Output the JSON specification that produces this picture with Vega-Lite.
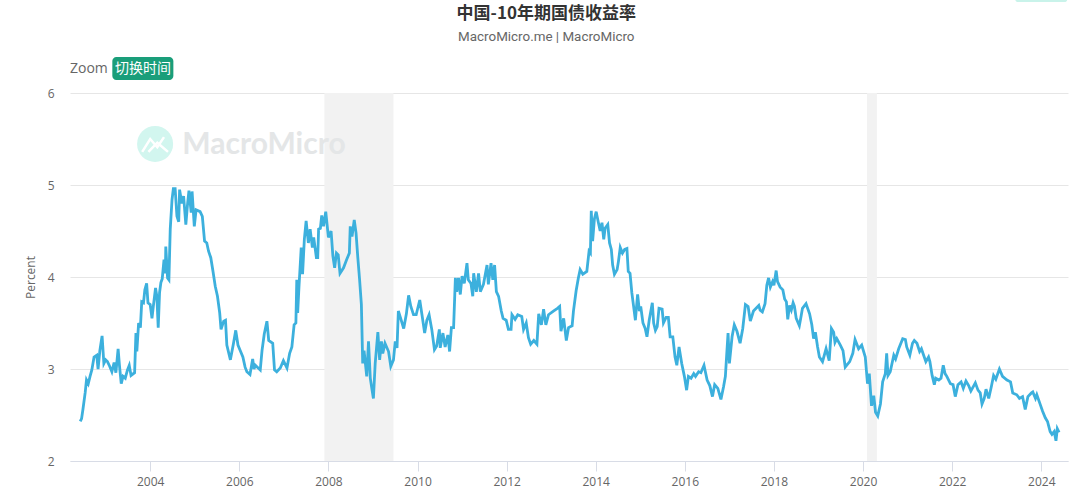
{"$schema":"https://vega.github.io/schema/vega-lite/v6.json","width":998,"height":368,"autosize":{"type":"none"},"padding":{"left":70,"top":93,"right":12,"bottom":43},"background":"#ffffff",
"config":{"view":{"stroke":null}},
"datasets":{
"recessions":[{"start":2007.91,"end":2009.46},{"start":2020.09,"end":2020.31}],
"boxes":[{"x1":2003.15,"x2":2004.52,"y1":6.14,"y2":6.39,"part":"button"},{"x1":2023.42,"x2":2024.58,"y1":6.99,"y2":7.03,"part":"corner"}],
"logo":[{"year":2003.82,"pct":5.36,"stroke":"a"},{"year":2004.0,"pct":5.5,"stroke":"a"},{"year":2004.16,"pct":5.41,"stroke":"a"},{"year":2004.31,"pct":5.52,"stroke":"a"},{"year":2003.96,"pct":5.36,"stroke":"b"},{"year":2004.16,"pct":5.46,"stroke":"b"},{"year":2004.4,"pct":5.36,"stroke":"b"}],
"yields":[
{"year":2002.43,"pct":2.43},{"year":2002.46,"pct":2.46},{"year":2002.49,"pct":2.56},{"year":2002.54,"pct":2.74},{"year":2002.57,"pct":2.88},{"year":2002.61,"pct":2.84},{"year":2002.65,"pct":2.92},{"year":2002.69,"pct":2.99},{"year":2002.74,"pct":3.13},{"year":2002.8,"pct":3.15},{"year":2002.83,"pct":3.0},{"year":2002.87,"pct":3.2},{"year":2002.92,"pct":3.36},{"year":2002.96,"pct":3.06},{"year":2003.0,"pct":3.1},{"year":2003.04,"pct":3.08},{"year":2003.09,"pct":3.03},{"year":2003.14,"pct":2.97},{"year":2003.19,"pct":3.07},{"year":2003.23,"pct":2.96},{"year":2003.28,"pct":3.22},{"year":2003.31,"pct":3.04},{"year":2003.35,"pct":2.84},{"year":2003.39,"pct":2.92},{"year":2003.44,"pct":2.9},{"year":2003.49,"pct":2.99},{"year":2003.53,"pct":3.04},{"year":2003.57,"pct":2.93},{"year":2003.65,"pct":2.96},{"year":2003.68,"pct":3.39},{"year":2003.7,"pct":3.19},{"year":2003.74,"pct":3.5},{"year":2003.78,"pct":3.45},{"year":2003.81,"pct":3.73},{"year":2003.85,"pct":3.72},{"year":2003.88,"pct":3.86},{"year":2003.92,"pct":3.93},{"year":2003.95,"pct":3.72},{"year":2004.0,"pct":3.7},{"year":2004.04,"pct":3.55},{"year":2004.07,"pct":3.68},{"year":2004.12,"pct":3.88},{"year":2004.15,"pct":3.79},{"year":2004.18,"pct":3.45},{"year":2004.21,"pct":3.83},{"year":2004.24,"pct":3.94},{"year":2004.27,"pct":3.98},{"year":2004.31,"pct":4.19},{"year":2004.34,"pct":4.04},{"year":2004.35,"pct":4.33},{"year":2004.39,"pct":3.99},{"year":2004.42,"pct":3.97},{"year":2004.45,"pct":4.52},{"year":2004.49,"pct":4.84},{"year":2004.52,"pct":4.96},{"year":2004.56,"pct":4.96},{"year":2004.6,"pct":4.66},{"year":2004.64,"pct":4.6},{"year":2004.66,"pct":4.95},{"year":2004.71,"pct":4.8},{"year":2004.75,"pct":4.88},{"year":2004.8,"pct":4.57},{"year":2004.84,"pct":4.8},{"year":2004.87,"pct":4.94},{"year":2004.92,"pct":4.7},{"year":2004.94,"pct":4.93},{"year":2004.99,"pct":4.55},{"year":2005.03,"pct":4.73},{"year":2005.12,"pct":4.71},{"year":2005.17,"pct":4.66},{"year":2005.22,"pct":4.39},{"year":2005.27,"pct":4.37},{"year":2005.31,"pct":4.28},{"year":2005.36,"pct":4.21},{"year":2005.41,"pct":4.06},{"year":2005.46,"pct":3.9},{"year":2005.51,"pct":3.79},{"year":2005.56,"pct":3.61},{"year":2005.59,"pct":3.43},{"year":2005.65,"pct":3.52},{"year":2005.69,"pct":3.53},{"year":2005.72,"pct":3.26},{"year":2005.8,"pct":3.1},{"year":2005.87,"pct":3.28},{"year":2005.92,"pct":3.42},{"year":2005.97,"pct":3.26},{"year":2006.02,"pct":3.2},{"year":2006.08,"pct":3.13},{"year":2006.13,"pct":3.02},{"year":2006.17,"pct":2.97},{"year":2006.24,"pct":2.94},{"year":2006.3,"pct":3.11},{"year":2006.33,"pct":3.0},{"year":2006.36,"pct":3.04},{"year":2006.47,"pct":2.99},{"year":2006.51,"pct":3.2},{"year":2006.56,"pct":3.38},{"year":2006.62,"pct":3.52},{"year":2006.66,"pct":3.31},{"year":2006.75,"pct":3.28},{"year":2006.79,"pct":2.99},{"year":2006.84,"pct":2.97},{"year":2006.92,"pct":3.01},{"year":2006.99,"pct":3.09},{"year":2007.07,"pct":3.01},{"year":2007.13,"pct":3.17},{"year":2007.18,"pct":3.24},{"year":2007.23,"pct":3.48},{"year":2007.27,"pct":3.5},{"year":2007.29,"pct":3.97},{"year":2007.31,"pct":3.61},{"year":2007.34,"pct":3.9},{"year":2007.39,"pct":4.32},{"year":2007.42,"pct":4.03},{"year":2007.46,"pct":4.41},{"year":2007.5,"pct":4.61},{"year":2007.55,"pct":4.37},{"year":2007.59,"pct":4.52},{"year":2007.64,"pct":4.32},{"year":2007.67,"pct":4.43},{"year":2007.73,"pct":4.21},{"year":2007.76,"pct":4.21},{"year":2007.78,"pct":4.52},{"year":2007.82,"pct":4.53},{"year":2007.85,"pct":4.67},{"year":2007.89,"pct":4.55},{"year":2007.94,"pct":4.71},{"year":2008.0,"pct":4.43},{"year":2008.06,"pct":4.5},{"year":2008.1,"pct":4.23},{"year":2008.14,"pct":4.1},{"year":2008.18,"pct":4.26},{"year":2008.22,"pct":4.24},{"year":2008.26,"pct":4.04},{"year":2008.34,"pct":4.1},{"year":2008.41,"pct":4.19},{"year":2008.47,"pct":4.26},{"year":2008.49,"pct":4.55},{"year":2008.53,"pct":4.44},{"year":2008.58,"pct":4.62},{"year":2008.62,"pct":4.48},{"year":2008.66,"pct":4.21},{"year":2008.7,"pct":3.97},{"year":2008.74,"pct":3.7},{"year":2008.77,"pct":3.06},{"year":2008.8,"pct":3.2},{"year":2008.83,"pct":3.06},{"year":2008.86,"pct":2.92},{"year":2008.9,"pct":3.3},{"year":2008.94,"pct":2.9},{"year":2008.98,"pct":2.77},{"year":2009.01,"pct":2.68},{"year":2009.05,"pct":3.06},{"year":2009.11,"pct":3.4},{"year":2009.15,"pct":3.1},{"year":2009.19,"pct":3.3},{"year":2009.22,"pct":3.17},{"year":2009.27,"pct":3.28},{"year":2009.35,"pct":3.19},{"year":2009.4,"pct":3.03},{"year":2009.46,"pct":3.1},{"year":2009.5,"pct":3.3},{"year":2009.54,"pct":3.23},{"year":2009.57,"pct":3.63},{"year":2009.61,"pct":3.57},{"year":2009.69,"pct":3.44},{"year":2009.75,"pct":3.6},{"year":2009.8,"pct":3.8},{"year":2009.85,"pct":3.68},{"year":2009.91,"pct":3.59},{"year":2009.97,"pct":3.59},{"year":2010.05,"pct":3.75},{"year":2010.1,"pct":3.59},{"year":2010.16,"pct":3.39},{"year":2010.21,"pct":3.53},{"year":2010.26,"pct":3.59},{"year":2010.32,"pct":3.43},{"year":2010.38,"pct":3.21},{"year":2010.43,"pct":3.25},{"year":2010.49,"pct":3.43},{"year":2010.51,"pct":3.23},{"year":2010.57,"pct":3.39},{"year":2010.62,"pct":3.24},{"year":2010.68,"pct":3.37},{"year":2010.72,"pct":3.19},{"year":2010.76,"pct":3.45},{"year":2010.81,"pct":3.45},{"year":2010.85,"pct":3.99},{"year":2010.88,"pct":3.84},{"year":2010.92,"pct":3.99},{"year":2010.96,"pct":3.81},{"year":2011.0,"pct":4.01},{"year":2011.05,"pct":3.93},{"year":2011.11,"pct":4.15},{"year":2011.14,"pct":3.97},{"year":2011.2,"pct":3.93},{"year":2011.24,"pct":3.79},{"year":2011.26,"pct":4.04},{"year":2011.32,"pct":3.84},{"year":2011.37,"pct":4.04},{"year":2011.41,"pct":3.84},{"year":2011.48,"pct":3.92},{"year":2011.56,"pct":4.13},{"year":2011.59,"pct":3.92},{"year":2011.65,"pct":4.15},{"year":2011.69,"pct":3.97},{"year":2011.73,"pct":4.13},{"year":2011.77,"pct":3.84},{"year":2011.82,"pct":3.79},{"year":2011.88,"pct":3.63},{"year":2011.92,"pct":3.55},{"year":2011.99,"pct":3.53},{"year":2012.04,"pct":3.43},{"year":2012.1,"pct":3.43},{"year":2012.12,"pct":3.59},{"year":2012.19,"pct":3.54},{"year":2012.25,"pct":3.59},{"year":2012.34,"pct":3.57},{"year":2012.38,"pct":3.43},{"year":2012.44,"pct":3.5},{"year":2012.49,"pct":3.34},{"year":2012.54,"pct":3.27},{"year":2012.61,"pct":3.31},{"year":2012.68,"pct":3.27},{"year":2012.72,"pct":3.6},{"year":2012.78,"pct":3.48},{"year":2012.83,"pct":3.65},{"year":2012.88,"pct":3.48},{"year":2012.94,"pct":3.59},{"year":2013.05,"pct":3.63},{"year":2013.14,"pct":3.66},{"year":2013.19,"pct":3.68},{"year":2013.22,"pct":3.41},{"year":2013.28,"pct":3.55},{"year":2013.34,"pct":3.31},{"year":2013.39,"pct":3.45},{"year":2013.47,"pct":3.47},{"year":2013.5,"pct":3.63},{"year":2013.56,"pct":3.85},{"year":2013.61,"pct":3.99},{"year":2013.65,"pct":4.08},{"year":2013.71,"pct":4.03},{"year":2013.8,"pct":4.06},{"year":2013.85,"pct":4.28},{"year":2013.88,"pct":4.26},{"year":2013.9,"pct":4.72},{"year":2013.93,"pct":4.39},{"year":2013.97,"pct":4.63},{"year":2014.01,"pct":4.71},{"year":2014.06,"pct":4.59},{"year":2014.1,"pct":4.5},{"year":2014.14,"pct":4.59},{"year":2014.18,"pct":4.41},{"year":2014.21,"pct":4.53},{"year":2014.27,"pct":4.57},{"year":2014.31,"pct":4.37},{"year":2014.35,"pct":4.3},{"year":2014.38,"pct":4.13},{"year":2014.42,"pct":4.03},{"year":2014.48,"pct":4.08},{"year":2014.51,"pct":4.17},{"year":2014.55,"pct":4.32},{"year":2014.6,"pct":4.26},{"year":2014.65,"pct":4.3},{"year":2014.7,"pct":4.31},{"year":2014.73,"pct":4.06},{"year":2014.77,"pct":4.04},{"year":2014.81,"pct":3.83},{"year":2014.85,"pct":3.68},{"year":2014.89,"pct":3.53},{"year":2014.94,"pct":3.81},{"year":2014.98,"pct":3.63},{"year":2015.01,"pct":3.68},{"year":2015.06,"pct":3.5},{"year":2015.11,"pct":3.44},{"year":2015.15,"pct":3.35},{"year":2015.2,"pct":3.53},{"year":2015.27,"pct":3.72},{"year":2015.3,"pct":3.5},{"year":2015.34,"pct":3.42},{"year":2015.38,"pct":3.46},{"year":2015.42,"pct":3.66},{"year":2015.49,"pct":3.65},{"year":2015.52,"pct":3.5},{"year":2015.58,"pct":3.56},{"year":2015.63,"pct":3.56},{"year":2015.67,"pct":3.35},{"year":2015.73,"pct":3.35},{"year":2015.78,"pct":3.13},{"year":2015.82,"pct":3.04},{"year":2015.87,"pct":3.24},{"year":2015.93,"pct":3.06},{"year":2015.99,"pct":2.92},{"year":2016.04,"pct":2.77},{"year":2016.08,"pct":2.92},{"year":2016.14,"pct":2.9},{"year":2016.2,"pct":2.95},{"year":2016.24,"pct":2.92},{"year":2016.31,"pct":2.97},{"year":2016.36,"pct":2.96},{"year":2016.43,"pct":3.04},{"year":2016.5,"pct":2.88},{"year":2016.56,"pct":2.82},{"year":2016.62,"pct":2.7},{"year":2016.67,"pct":2.83},{"year":2016.74,"pct":2.79},{"year":2016.81,"pct":2.67},{"year":2016.87,"pct":2.81},{"year":2016.91,"pct":2.92},{"year":2016.93,"pct":3.08},{"year":2016.97,"pct":3.39},{"year":2017.0,"pct":3.06},{"year":2017.06,"pct":3.35},{"year":2017.11,"pct":3.48},{"year":2017.17,"pct":3.41},{"year":2017.24,"pct":3.28},{"year":2017.3,"pct":3.44},{"year":2017.36,"pct":3.7},{"year":2017.42,"pct":3.68},{"year":2017.47,"pct":3.52},{"year":2017.54,"pct":3.63},{"year":2017.6,"pct":3.66},{"year":2017.66,"pct":3.69},{"year":2017.69,"pct":3.64},{"year":2017.74,"pct":3.62},{"year":2017.8,"pct":3.71},{"year":2017.84,"pct":3.91},{"year":2017.88,"pct":3.99},{"year":2017.92,"pct":3.89},{"year":2017.97,"pct":3.95},{"year":2018.0,"pct":3.91},{"year":2018.05,"pct":4.07},{"year":2018.08,"pct":3.95},{"year":2018.14,"pct":3.89},{"year":2018.2,"pct":3.86},{"year":2018.24,"pct":3.76},{"year":2018.28,"pct":3.73},{"year":2018.31,"pct":3.54},{"year":2018.35,"pct":3.69},{"year":2018.39,"pct":3.64},{"year":2018.43,"pct":3.72},{"year":2018.46,"pct":3.68},{"year":2018.5,"pct":3.55},{"year":2018.57,"pct":3.47},{"year":2018.6,"pct":3.55},{"year":2018.64,"pct":3.66},{"year":2018.72,"pct":3.71},{"year":2018.8,"pct":3.6},{"year":2018.85,"pct":3.48},{"year":2018.89,"pct":3.33},{"year":2018.93,"pct":3.4},{"year":2018.98,"pct":3.24},{"year":2019.02,"pct":3.13},{"year":2019.09,"pct":3.08},{"year":2019.17,"pct":3.22},{"year":2019.24,"pct":3.09},{"year":2019.29,"pct":3.44},{"year":2019.34,"pct":3.4},{"year":2019.37,"pct":3.29},{"year":2019.41,"pct":3.33},{"year":2019.49,"pct":3.26},{"year":2019.55,"pct":3.2},{"year":2019.6,"pct":3.02},{"year":2019.7,"pct":3.08},{"year":2019.77,"pct":3.17},{"year":2019.82,"pct":3.32},{"year":2019.9,"pct":3.22},{"year":2019.97,"pct":3.26},{"year":2020.05,"pct":3.13},{"year":2020.1,"pct":2.84},{"year":2020.14,"pct":2.95},{"year":2020.19,"pct":2.6},{"year":2020.24,"pct":2.71},{"year":2020.28,"pct":2.53},{"year":2020.33,"pct":2.49},{"year":2020.39,"pct":2.62},{"year":2020.44,"pct":2.86},{"year":2020.5,"pct":2.95},{"year":2020.53,"pct":3.17},{"year":2020.56,"pct":2.93},{"year":2020.61,"pct":2.97},{"year":2020.69,"pct":3.15},{"year":2020.73,"pct":3.11},{"year":2020.8,"pct":3.22},{"year":2020.89,"pct":3.33},{"year":2020.95,"pct":3.32},{"year":2020.98,"pct":3.24},{"year":2021.05,"pct":3.15},{"year":2021.11,"pct":3.28},{"year":2021.15,"pct":3.31},{"year":2021.21,"pct":3.28},{"year":2021.27,"pct":3.19},{"year":2021.31,"pct":3.22},{"year":2021.36,"pct":3.15},{"year":2021.41,"pct":3.08},{"year":2021.47,"pct":3.13},{"year":2021.5,"pct":3.08},{"year":2021.55,"pct":2.93},{"year":2021.6,"pct":2.83},{"year":2021.63,"pct":2.9},{"year":2021.7,"pct":2.88},{"year":2021.75,"pct":2.9},{"year":2021.8,"pct":3.04},{"year":2021.84,"pct":2.95},{"year":2021.88,"pct":2.92},{"year":2021.96,"pct":2.84},{"year":2022.02,"pct":2.83},{"year":2022.07,"pct":2.7},{"year":2022.13,"pct":2.83},{"year":2022.2,"pct":2.86},{"year":2022.25,"pct":2.79},{"year":2022.31,"pct":2.87},{"year":2022.37,"pct":2.82},{"year":2022.42,"pct":2.76},{"year":2022.52,"pct":2.85},{"year":2022.58,"pct":2.77},{"year":2022.63,"pct":2.74},{"year":2022.67,"pct":2.62},{"year":2022.72,"pct":2.68},{"year":2022.76,"pct":2.78},{"year":2022.82,"pct":2.68},{"year":2022.88,"pct":2.81},{"year":2022.93,"pct":2.93},{"year":2022.98,"pct":2.89},{"year":2023.06,"pct":3.0},{"year":2023.13,"pct":2.92},{"year":2023.23,"pct":2.88},{"year":2023.31,"pct":2.86},{"year":2023.36,"pct":2.74},{"year":2023.45,"pct":2.72},{"year":2023.51,"pct":2.68},{"year":2023.58,"pct":2.7},{"year":2023.64,"pct":2.56},{"year":2023.7,"pct":2.7},{"year":2023.78,"pct":2.74},{"year":2023.81,"pct":2.75},{"year":2023.87,"pct":2.68},{"year":2023.9,"pct":2.72},{"year":2023.98,"pct":2.61},{"year":2024.03,"pct":2.54},{"year":2024.09,"pct":2.47},{"year":2024.14,"pct":2.43},{"year":2024.2,"pct":2.32},{"year":2024.24,"pct":2.29},{"year":2024.29,"pct":2.32},{"year":2024.33,"pct":2.22},{"year":2024.36,"pct":2.35},{"year":2024.4,"pct":2.31}
]},
"layer":[
{"data":{"name":"recessions"},"mark":{"type":"rect","color":"#f2f2f2"},"encoding":{"x":{"field":"start","type":"quantitative","scale":{"domain":[2002.2,2024.6],"nice":false,"zero":false},"axis":{"values":[2004,2006,2008,2010,2012,2014,2016,2018,2020,2022,2024],"format":"d","title":null,"grid":false,"domainColor":"#d8dce6","domainWidth":1,"tickColor":"#d8dce6","tickSize":10,"labelColor":"#666666","labelFont":"Open Sans","labelFontSize":12,"labelPadding":5,"labelFlush":false}},"x2":{"field":"end"},"y":{"datum":2,"type":"quantitative","scale":{"domain":[2,6],"nice":false,"zero":false},"axis":{"values":[2,3,4,5,6],"format":"d","title":"Percent","titleColor":"#666666","titleFont":"Open Sans","titleFontSize":12,"titleFontWeight":"normal","titlePadding":10,"grid":true,"gridColor":"#e6e6e6","domain":false,"ticks":false,"labelColor":"#666666","labelFont":"Open Sans","labelFontSize":12,"labelPadding":16}},"y2":{"datum":6}}},
{"data":{"values":[{"year":2004.11,"pct":5.446}]},"mark":{"type":"point","filled":true,"size":1300,"color":"#d2f6ef","opacity":1},"encoding":{"x":{"field":"year","type":"quantitative"},"y":{"field":"pct","type":"quantitative"}}},
{"data":{"name":"logo"},"mark":{"type":"line","color":"#ffffff","strokeWidth":2.5},"encoding":{"x":{"field":"year","type":"quantitative"},"y":{"field":"pct","type":"quantitative"},"detail":{"field":"stroke"}}},
{"data":{"values":[{"year":2004.72,"pct":5.337,"label":"MacroMicro"}]},"mark":{"type":"text","align":"left","baseline":"alphabetic","font":"Lato","fontSize":30,"fontWeight":"bold","color":"#e4e6e7"},"encoding":{"x":{"field":"year","type":"quantitative"},"y":{"field":"pct","type":"quantitative"},"text":{"field":"label"}}},
{"data":{"name":"boxes"},"mark":{"type":"rect","cornerRadius":4},"encoding":{"x":{"field":"x1","type":"quantitative"},"x2":{"field":"x2"},"y":{"field":"y1","type":"quantitative"},"y2":{"field":"y2"},"color":{"field":"part","type":"nominal","scale":{"domain":["button","corner"],"range":["#1a9e7a","#c9f3ea"]},"legend":null}}},
{"data":{"values":[{"year":2002.2,"pct":6.26,"label":"Zoom"}]},"mark":{"type":"text","align":"left","baseline":"middle","font":"Open Sans","fontSize":14,"color":"#666666"},"encoding":{"x":{"field":"year","type":"quantitative"},"y":{"field":"pct","type":"quantitative"},"text":{"field":"label"}}},
{"data":{"values":[{"year":2003.84,"pct":6.265,"label":"切换时间"}]},"mark":{"type":"text","align":"center","baseline":"middle","font":"Noto Sans CJK SC","fontSize":14,"color":"#ffffff"},"encoding":{"x":{"field":"year","type":"quantitative"},"y":{"field":"pct","type":"quantitative"},"text":{"field":"label"}}},
{"data":{"values":[{"year":2012.89,"pct":6.86,"label":"中国-10年期国债收益率"}]},"mark":{"type":"text","align":"center","baseline":"middle","font":"Noto Sans CJK SC","fontSize":17,"fontWeight":"bold","color":"#333333"},"encoding":{"x":{"field":"year","type":"quantitative"},"y":{"field":"pct","type":"quantitative"},"text":{"field":"label"}}},
{"data":{"values":[{"year":2012.89,"pct":6.61,"label":"MacroMicro.me | MacroMicro"}]},"mark":{"type":"text","align":"center","baseline":"middle","font":"Roboto","fontSize":13.4,"color":"#666666"},"encoding":{"x":{"field":"year","type":"quantitative"},"y":{"field":"pct","type":"quantitative"},"text":{"field":"label"}}},
{"data":{"name":"yields"},"mark":{"type":"line","color":"#3cb0dd","strokeWidth":2.8,"interpolate":"linear"},"encoding":{"x":{"field":"year","type":"quantitative"},"y":{"field":"pct","type":"quantitative"}}}
]}
